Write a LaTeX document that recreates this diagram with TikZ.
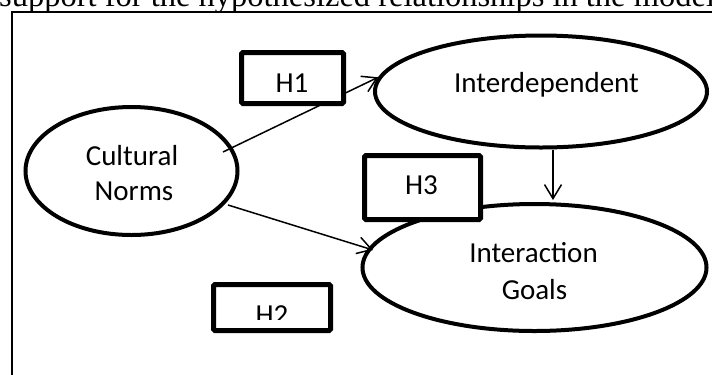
\documentclass[tikz,border=0pt]{standalone}
\usepackage{fontspec}
\setmainfont{Liberation Serif}
\newfontfamily\calibri{Carlito}
\usetikzlibrary{shapes.geometric,arrows.meta}
\tikzset{
  latent/.style={ellipse, draw, line width=4bp, fill=white, inner sep=0pt},
  hbox/.style={rectangle, draw, line width=5bp, rounded corners=1.5bp, fill=white, inner sep=0pt},
  lbl/.style={font=\calibri\fontsize{29bp}{35bp}\selectfont, inner sep=0pt, align=center},
  arr/.style={line width=1.5bp, -{Straight Barb[length=14bp,width=17bp]}},
}
\begin{document}
\begin{tikzpicture}[x=1bp,y=-1bp]
\useasboundingbox (0,0) rectangle (712,374);
\clip (0,0) rectangle (712,374);
% cropped caption line of the page
\node[anchor=base west, inner sep=0pt, font=\fontsize{32.5bp}{39bp}\selectfont] (cap) at (-1,6.5) {support for the hypothesized relationships in the model};
% frame
\draw[line width=1.4bp] (12,380) -- (12,12) -- (720,12);
% ellipses
\node[latent, minimum width=332bp, minimum height=112bp] (int) at (541,91.5) {};
\node[latent, minimum width=212bp, minimum height=128bp] (cn) at (131.5,171) {};
\node[latent, minimum width=344bp, minimum height=127bp] (ig) at (534.5,267.5) {};
\node[lbl, anchor=base] (tint) at (546.5,92) {Interdependent};
\node[lbl, anchor=base] (tcn1) at (132,165.7) {Cultural};
\node[lbl, anchor=base] (tcn2) at (134,200) {Norms};
\node[lbl, anchor=base] (tig1) at (533.5,262) {Interaction};
\node[lbl, anchor=base] (tig2) at (534.5,299) {Goals};
% connectors
\coordinate (s1) at (223,152);
\coordinate (s2) at (228,205);
\coordinate (e2) at (373,250);
\draw[arr] (s1) -- (int.175.4);
\draw[arr] (s2) -- (e2);
\draw[arr] ([xshift=12bp]int.south) -- ([xshift=12bp]int.south |- 0,200);
% hypothesis boxes
\node[hbox, minimum width=102bp, minimum height=51bp] (h1) at (292.5,78) {};
\node[lbl, anchor=base] (th1) at (292,92) {H1};
\node[hbox, minimum width=116bp, minimum height=64bp] (h3) at (422.5,187.5) {};
\node[lbl, anchor=base] (th3) at (421.5,194) {H3};
\node[hbox, minimum width=117bp, minimum height=46bp] (h2) at (272,307.5) {};
\begin{scope}
\clip (200,280) rectangle (340,319.5);
\node[lbl, anchor=base] (th2) at (272,324) {H2};
\end{scope}
\end{tikzpicture}
\end{document}
